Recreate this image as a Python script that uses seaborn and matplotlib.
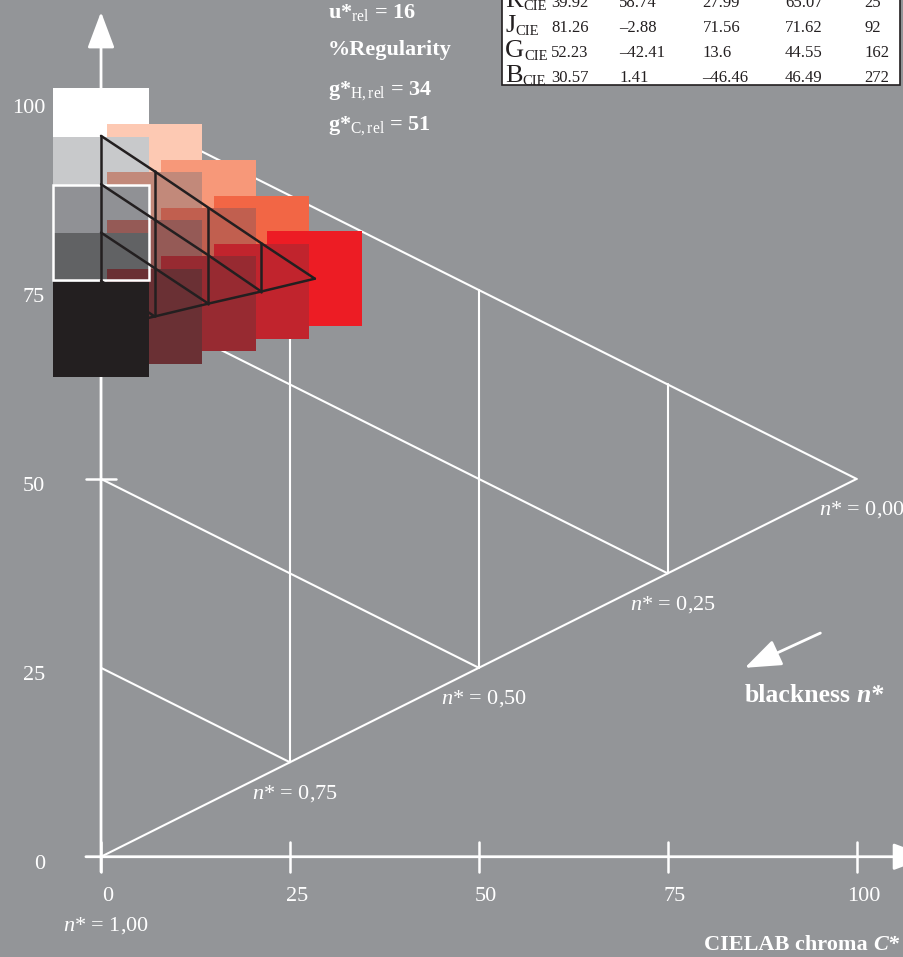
import matplotlib.pyplot as plt
import pandas as pd
import seaborn as sns
from matplotlib.patches import Rectangle

# colour patches of the hue triangle: chroma C*, lightness L*, colour
patch_col = [0, 0, 0, 0, 0, 1, 1, 1, 1, 2, 2, 2, 3, 3, 4]
patch_row = [0, 1, 2, 3, 4, 0, 1, 2, 3, 0, 1, 2, 0, 1, 0]
patch_c = [0.0, 0.0, 0.0, 0.0, 0.0, 7.1, 7.1, 7.1, 7.1, 14.2, 14.2, 14.2, 21.2, 21.2, 28.3]
patch_l = [95.4, 89.0, 82.6, 76.2, 69.8, 90.7, 84.3, 77.9, 71.5, 85.9, 79.6, 73.2, 81.2, 74.8, 76.5]
patch_colors = ["#FFFFFF", "#C8C9CB", "#909195", "#616264", "#231F20",
                "#FDC9B3", "#C2897A", "#955A56", "#6A3034",
                "#F79879", "#C15F4F", "#972A31",
                "#F26645", "#C1242D",
                "#ED1C24"]
patch_size = 12.6
marked_patch = 2  # grey patch with white frame

# outer triangle (white grid): black point, full colour, white point
tri_c = [0, 100, 0]
tri_l = [0, 50, 100]
n_levels = [0.00, 0.25, 0.50, 0.75, 1.00]
n_labels = ["0,00", "0,25", "0,50", "0,75", "1,00"]
chroma_ticks = [0, 25, 50, 75, 100]
lightness_ticks = [0, 25, 50, 75, 100]

# CIE table (top right)
table_names = ["R", "J", "G", "B"]
table_L = ["39.92", "81.26", "52.23", "30.57"]
table_a = ["58.74", "–2.88", "–42.41", "1.41"]
table_b = ["27.99", "71.56", "13.6", "–46.46"]
table_C = ["65.07", "71.62", "44.55", "46.49"]
table_h = ["25", "92", "162", "272"]

info_lines = ["u*$_{\\rm rel}$ = 16", "%Regularity",
              "g*$_{\\rm H,rel}$ = 34", "g*$_{\\rm C,rel}$ = 51"]

BG = "#939598"
LINE_BLACK = "#231F20"

sns.set_theme(style="white")
plt.rcParams["font.family"] = ["Liberation Serif", "DejaVu Serif"]
plt.rcParams["mathtext.fontset"] = "custom"
plt.rcParams["mathtext.rm"] = "Liberation Serif"
plt.rcParams["mathtext.it"] = "Liberation Serif:italic"
plt.rcParams["mathtext.bf"] = "Liberation Serif:bold"

fig = plt.figure(figsize=(9.04, 9.57), dpi=100, facecolor=BG)
ax = fig.add_axes([0, 0, 1, 1])
ax.set_facecolor(BG)
ax.set_xlim(-13.37, 106.27)
ax.set_ylim(-13.27, 113.38)
ax.axis("off")

# white grid: lines of equal blackness n* and equal chroma
segs = []
for k, n in enumerate(n_levels[:-1]):
    segs.append((k, tri_c[0], tri_l[2] * (1 - n)))
    segs.append((k, tri_c[1] * (1 - n), tri_l[1] * (1 - n)))
for k, c in enumerate(chroma_ticks[1:-1]):
    segs.append((10 + k, c, tri_l[1] * c / tri_c[1]))
    segs.append((10 + k, c, tri_l[2] - tri_l[1] * c / tri_c[1]))
segs.append((20, tri_c[0], tri_l[0]))
segs.append((20, tri_c[1], tri_l[1]))
grid_df = pd.DataFrame(segs, columns=["seg", "c", "l"])
sns.lineplot(data=grid_df, x="c", y="l", units="seg", estimator=None, sort=False,
             color="white", lw=1.5, ax=ax, legend=False)

# axes with arrows
arrow = dict(arrowstyle="-|>,head_length=0.4,head_width=0.15", mutation_scale=56,
             color="white", lw=2, shrinkA=0, shrinkB=0)
ax.annotate("", xy=(109.6, 0), xytext=(-2, 0), arrowprops=arrow, annotation_clip=False)
ax.annotate("", xy=(0, 111.8), xytext=(0, -2), arrowprops=arrow, annotation_clip=False)
for c in chroma_ticks:
    ax.plot([c, c], [-2, 2], color="white", lw=1.8)
    ax.text(c + 0.9, -5.3, str(c), ha="center", va="center", color="white", fontsize=16)
ax.plot([-2, 2], [50, 50], color="white", lw=1.8)
for v in lightness_ticks:
    ax.text(-7.4, v - 1.0, str(v), ha="right", va="center", color="white", fontsize=16)

for n, lab in zip(n_levels, n_labels):
    c, l = tri_c[1] * (1 - n), tri_l[1] * (1 - n)
    dy = -69 if n == 1.0 else -31
    ax.annotate(f"$n$* = {lab}", xy=(c, l), xytext=(5, dy), textcoords="offset pixels",
                ha="center", va="center", color="white", fontsize=16)

# blackness arrow and axis title
ax.annotate("", xy=(85.2, 25.0), xytext=(95.2, 29.6), arrowprops=arrow)
t = ax.text(85.2, 20.5, "blackness", color="white", fontsize=18.5, fontweight="bold",
            ha="left", va="baseline")
ax.annotate("n*", xy=(1, 0), xycoords=t, xytext=(4, 0), textcoords="offset points",
            color="white", fontsize=18.5, fontweight="bold", fontstyle="italic",
            ha="left", va="bottom")
t2 = ax.text(79.8, -12.35, "CIELAB chroma", color="white", fontsize=16, fontweight="bold",
             ha="left", va="baseline")
ax.annotate("C*", xy=(1, 0), xycoords=t2, xytext=(4, 0), textcoords="offset points",
            color="white", fontsize=16, fontweight="bold", fontstyle="italic",
            ha="left", va="bottom", annotation_clip=False)

# colour patches, upper ones first
order = sorted(range(len(patch_l)), key=lambda i: -patch_l[i])
for i in order:
    ax.add_patch(Rectangle((patch_c[i] - patch_size / 2, patch_l[i] - patch_size / 2),
                           patch_size, patch_size, facecolor=patch_colors[i],
                           edgecolor="none", zorder=3))
ax.add_patch(Rectangle((patch_c[marked_patch] - patch_size / 2, patch_l[marked_patch] - patch_size / 2),
                       patch_size, patch_size, facecolor="none", edgecolor="white",
                       lw=1.8, zorder=4))

# black triangle grid through the patch centres
node = {(patch_col[i], patch_row[i]): (patch_c[i], patch_l[i]) for i in range(len(patch_c))}
steps = max(patch_col)
lines = []
for j in range(steps):
    lines.append([node[(i, j)] for i in range(steps + 1 - j)])
for i in range(steps):
    lines.append([node[(i, j)] for j in range(steps + 1 - i)])
lines.append([node[(i, steps - i)] for i in range(steps + 1)])
for pts in lines:
    ax.plot([p[0] for p in pts], [p[1] for p in pts], color=LINE_BLACK, lw=1.8, zorder=5)

# info text
for k, line in enumerate(info_lines):
    ax.text(30.0, [111.0, 106.1, 100.8, 96.2][k], line, color="white", fontsize=16,
            fontweight="bold", ha="left", va="baseline")

# CIE table
ax.add_patch(Rectangle((53.1, 102.1), 52.6, 15, facecolor="white", edgecolor=LINE_BLACK,
                       lw=1.2, zorder=6))
col_x = [59.6, 68.6, 79.6, 90.5, 101.0]
for r, name in enumerate(table_names):
    y = 112.4 - r * 3.31
    tn = ax.text(53.5, y, name, fontsize=19, ha="left", va="baseline",
                 color=LINE_BLACK, zorder=7)
    ax.annotate("CIE", xy=(1, 0), xycoords=tn, xytext=(0, 2), textcoords="offset pixels",
                fontsize=10.5, ha="left", va="baseline", color=LINE_BLACK, zorder=7,
                annotation_clip=False)
    for x, val in zip(col_x, [table_L[r], table_a[r], table_b[r], table_C[r], table_h[r]]):
        ax.text(x, y, val, fontsize=12, ha="left", va="baseline", color=LINE_BLACK, zorder=7)

fig.savefig("out.png", dpi=100, facecolor=BG)
